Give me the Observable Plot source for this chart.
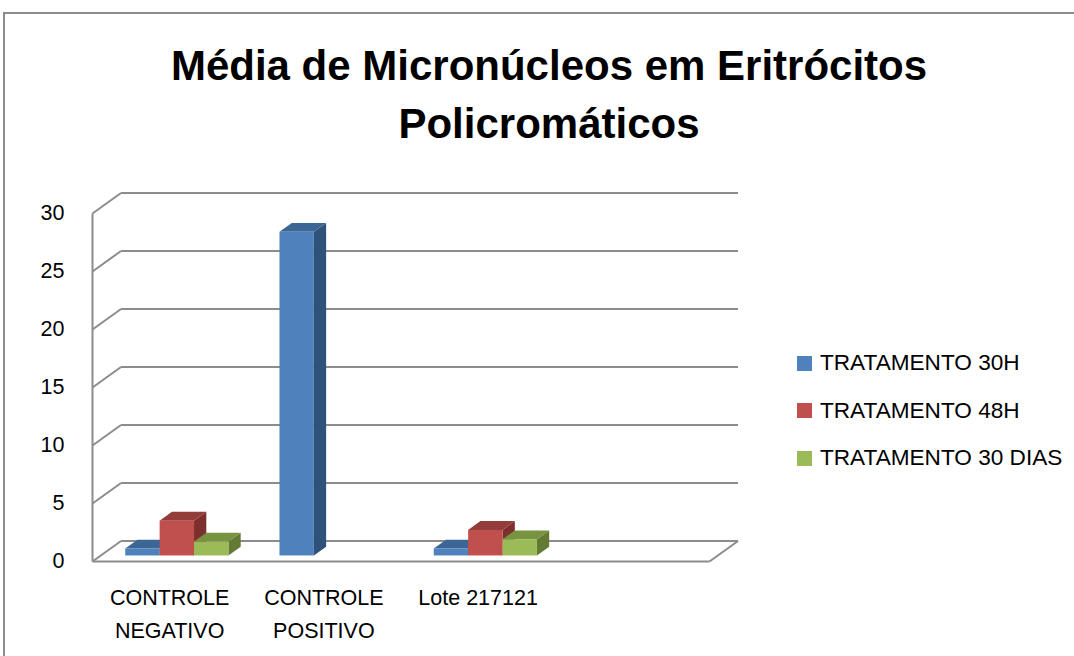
<!DOCTYPE html>
<html>
<head>
<meta charset="utf-8">
<script src="https://cdn.jsdelivr.net/npm/d3@7"></script>
<script src="https://cdn.jsdelivr.net/npm/@observablehq/plot@0.6"></script>
<style>
  html, body { margin: 0; padding: 0; background: #fff; }
  #wrap { position: relative; width: 1074px; height: 656px; overflow: hidden; background: #fff; font-family: "Liberation Sans", Arial, sans-serif; }
  #frame { position: absolute; left: 3px; top: 12px; width: 1200px; height: 800px; border: 2px solid #8c8c8c; box-sizing: border-box; }
  #title { position: absolute; left: 549px; top: 37px; transform: translateX(-50%); text-align: center; font-weight: bold; font-size: 42px; line-height: 58px; white-space: nowrap; color: #000; }
  #chart { position: absolute; left: 0; top: 180px; }
  #legend { position: absolute; left: 797px; top: 348px; font-size: 22.6px; color: #000; }
  .row { display: flex; align-items: center; height: 30px; margin-bottom: 17.7px; white-space: nowrap; }
  .sw { width: 15px; height: 15px; margin-right: 8px; flex: none; }
</style>
</head>
<body>
<div id="wrap">
  <div id="frame"></div>
  <div id="title"></div>
  <div id="chart"></div>
  <div id="legend"></div>
</div>
<script>
// ---- data ----
const titleLines = ["Média de Micronúcleos em Eritrócitos", "Policromáticos"];
const categories = ["CONTROLE NEGATIVO", "CONTROLE POSITIVO", "Lote 217121", ""];
const categoryLabels = ["CONTROLE\nNEGATIVO", "CONTROLE\nPOSITIVO", "Lote 217121", ""];
const series = ["TRATAMENTO 30H", "TRATAMENTO 48H", "TRATAMENTO 30 DIAS"];
const tratamento30h = [0.6, 27.9, 0.6];
const tratamento48h = [3.0, 0, 2.2];
const tratamento30dias = [1.2, 0, 1.4];
const yTicks = [0, 5, 10, 15, 20, 25, 30];
const frontColors = ["#4f81bd", "#c0504d", "#9bbb59"];
const topColors = ["#3c6696", "#943c3a", "#789342"];
const sideColors = ["#2f5279", "#7d2f2d", "#627a33"];

// ---- oblique 3D projection constants (in data units) ----
const DEPTH_X = 0.185, DEPTH_Y = 1.77;   // full wall depth
const T_FRONT = 0.27, T_DEPTH = 0.43, BAR_W = 0.223;
const X0 = -0.5, X1 = categories.length - 0.5;

const seriesValues = [tratamento30h, tratamento48h, tratamento30dias];
const bars = [];
series.forEach((s, si) => {
  seriesValues[si].forEach((v, ci) => {
    if (!(v > 0)) return;
    const x0 = ci + T_FRONT * DEPTH_X - 1.5 * BAR_W + si * BAR_W;
    bars.push({id: si + "-" + ci, si, x0, x1: x0 + BAR_W, yb: T_FRONT * DEPTH_Y, yt: v + T_FRONT * DEPTH_Y});
  });
});
const ddx = T_DEPTH * DEPTH_X, ddy = T_DEPTH * DEPTH_Y;
const sides = bars.flatMap(b => [
  {id: b.id, si: b.si, x: b.x1, y1: b.yb, y2: b.yt},
  {id: b.id, si: b.si, x: b.x1 + ddx, y1: b.yb + ddy, y2: b.yt + ddy}
]);
const tops = bars.flatMap(b => [
  {id: b.id, si: b.si, y: b.yt, x1: b.x0, x2: b.x1},
  {id: b.id, si: b.si, y: b.yt + ddy, x1: b.x0 + ddx, x2: b.x1 + ddx}
]);

const gridColor = "#8c8c8c";
const marks = [
  // back wall grid lines
  Plot.link(yTicks, {x1: () => X0 + DEPTH_X, x2: () => X1 + DEPTH_X, y1: d => d + DEPTH_Y, y2: d => d + DEPTH_Y, stroke: gridColor, strokeWidth: 2}),
  // left wall diagonals
  Plot.link(yTicks, {x1: () => X0, x2: () => X0 + DEPTH_X, y1: d => d, y2: d => d + DEPTH_Y, stroke: gridColor, strokeWidth: 2}),
  // left wall front edge
  Plot.link([0], {x1: () => X0, x2: () => X0, y1: () => yTicks[0], y2: () => yTicks[yTicks.length - 1], stroke: gridColor, strokeWidth: 2}),
  // floor front edge and right edge
  Plot.link([0], {x1: () => X0, x2: () => X1, y1: () => 0, y2: () => 0, stroke: gridColor, strokeWidth: 2}),
  Plot.link([0], {x1: () => X1, x2: () => X1 + DEPTH_X, y1: () => 0, y2: () => DEPTH_Y, stroke: gridColor, strokeWidth: 2})
];
series.forEach((s, si) => {
  marks.push(Plot.areaY(sides.filter(d => d.si === si), {x: "x", y1: "y1", y2: "y2", z: "id", fill: sideColors[si]}));
});
series.forEach((s, si) => {
  marks.push(Plot.areaX(tops.filter(d => d.si === si), {y: "y", x1: "x1", x2: "x2", z: "id", fill: topColors[si]}));
});
series.forEach((s, si) => {
  marks.push(Plot.rect(bars.filter(d => d.si === si), {x1: "x0", x2: "x1", y1: "yb", y2: "yt", fill: frontColors[si]}));
});
marks.push(Plot.text(categoryLabels.map((t, i) => ({t, i})), {
  x: "i", y: () => 0, text: "t", lineAnchor: "top", dy: 20, lineHeight: 1.55,
  fontSize: 21.5, fill: "#000"
}));

const chart = Plot.plot({
  width: 780,
  height: 476,
  marginLeft: 92,
  marginRight: 71,
  marginTop: 33,
  marginBottom: 95,
  style: {fontFamily: "Liberation Sans, Arial, sans-serif", fontSize: "21.5px", color: "#000", background: "transparent"},
  x: {domain: [X0, X1], axis: null},
  y: {domain: [yTicks[0], yTicks[yTicks.length - 1]], ticks: yTicks, tickSize: 0, tickPadding: 28, tickFormat: d => String(d), label: null},
  marks
});
document.getElementById("chart").appendChild(chart);

// title
const titleEl = document.getElementById("title");
titleEl.innerHTML = titleLines.map(t => `<div>${t}</div>`).join("");

// legend
const legend = document.getElementById("legend");
series.forEach((s, si) => {
  const row = document.createElement("div");
  row.className = "row";
  row.innerHTML = `<span class="sw" style="background:${frontColors[si]}"></span><span>${s}</span>`;
  legend.appendChild(row);
});
</script>
</body>
</html>
